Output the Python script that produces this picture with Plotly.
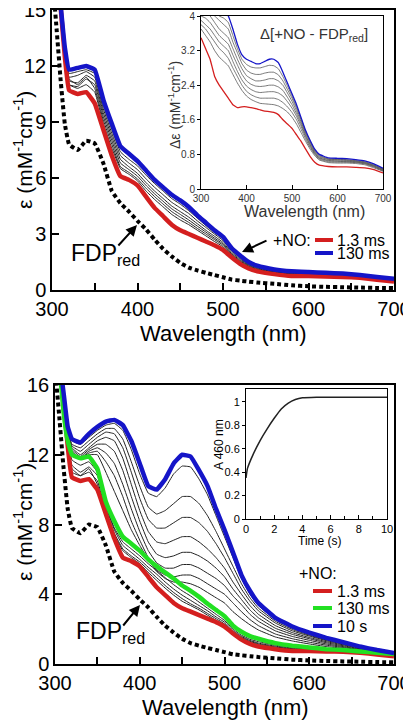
import plotly.graph_objects as go

# ---------------- data ----------------
WL = [300, 305, 310, 315, 320, 330, 340, 350, 360, 370, 380, 390, 400, 410, 420, 430, 440, 450,
      460, 470, 480, 490, 500, 510, 520, 530, 540, 560, 580, 600, 620, 640, 660, 680, 700]

FDP_RED = [17, 14.2, 11.3, 8.9, 7.8, 7.5, 8.0, 7.85, 6.8, 5.3, 4.65, 4.2, 3.7, 3.25, 2.7, 2.2, 1.8, 1.45,
           1.2, 1.05, 0.92, 0.8, 0.68, 0.56, 0.5, 0.45, 0.4, 0.33, 0.25, 0.2, 0.17, 0.15, 0.13, 0.11, 0.1]

RED_1P3MS = [20, 17.5, 15.2, 12.5, 10.7, 10.5, 10.6, 10.0, 8.6, 7.2, 6.1, 5.9, 5.6, 5.0, 4.4, 3.95, 3.5, 3.2,
             3.0, 2.8, 2.6, 2.4, 2.15, 1.75, 1.4, 1.15, 1.0, 0.85, 0.75, 0.75, 0.72, 0.7, 0.65, 0.55, 0.45]

# top panel: 130 ms (blue) and intermediate traces
TOP_BLUE_130MS = [20, 17.5, 15.3, 13.0, 11.8, 11.9, 12.0, 11.8, 10.2, 8.9, 7.7, 7.3, 6.9, 6.4, 5.9, 5.5, 5.1, 4.8,
                  4.45, 4.0, 3.6, 3.2, 2.85, 2.25, 1.85, 1.5, 1.3, 1.1, 1.0, 0.96, 0.92, 0.88, 0.8, 0.7, 0.6]
TOP_MID = [
    [20, 17.5, 15.3, 12.9, 11.6, 11.7, 11.8, 11.6, 9.9, 8.6, 7.4, 7.0, 6.65, 6.15, 5.7, 5.3, 4.9, 4.6, 4.25, 3.85, 3.45, 3.08, 2.75, 2.18, 1.78, 1.45, 1.26, 1.07, 0.98, 0.94, 0.9, 0.86, 0.78, 0.68, 0.58],
    [20, 17.5, 15.3, 12.9, 11.4, 11.5, 11.7, 11.4, 9.7, 8.4, 7.2, 6.8, 6.45, 5.95, 5.5, 5.1, 4.7, 4.4, 4.1, 3.7, 3.35, 3.0, 2.65, 2.1, 1.72, 1.4, 1.22, 1.04, 0.95, 0.92, 0.88, 0.84, 0.76, 0.66, 0.56],
    [20, 17.5, 15.2, 12.8, 11.2, 11.1, 11.5, 11.2, 9.5, 8.2, 7.0, 6.6, 6.25, 5.75, 5.3, 4.9, 4.5, 4.2, 3.9, 3.55, 3.2, 2.88, 2.55, 2.02, 1.66, 1.36, 1.18, 1.0, 0.92, 0.89, 0.85, 0.81, 0.74, 0.64, 0.54],
    [20, 17.5, 15.2, 12.8, 11.0, 10.9, 11.3, 11.0, 9.3, 8.0, 6.8, 6.45, 6.1, 5.6, 5.15, 4.75, 4.35, 4.05, 3.75, 3.42, 3.1, 2.78, 2.47, 1.95, 1.6, 1.32, 1.14, 0.97, 0.89, 0.86, 0.82, 0.78, 0.72, 0.62, 0.52],
    [20, 17.5, 15.2, 12.7, 11.3, 11.0, 11.4, 10.8, 9.1, 7.8, 6.6, 6.3, 5.95, 5.45, 5.0, 4.6, 4.2, 3.9, 3.62, 3.3, 3.0, 2.7, 2.4, 1.9, 1.55, 1.28, 1.1, 0.94, 0.86, 0.83, 0.8, 0.76, 0.7, 0.6, 0.5],
    [20, 17.5, 15.1, 12.6, 11.0, 10.8, 11.0, 10.6, 8.9, 7.6, 6.5, 6.2, 5.85, 5.3, 4.85, 4.45, 4.05, 3.75, 3.5, 3.2, 2.9, 2.6, 2.32, 1.85, 1.5, 1.24, 1.07, 0.92, 0.84, 0.81, 0.78, 0.74, 0.68, 0.58, 0.48],
]

# bottom panel: 130 ms (green), 10 s (blue) and intermediate traces
BOT_GREEN_130MS = [20, 17.3, 14.5, 12.8, 12.0, 11.8, 11.9, 11.2, 9.3, 8.2, 7.3, 6.9, 6.5, 6.0, 5.6, 5.25, 4.9, 4.5,
                   4.2, 3.85, 3.45, 3.1, 2.75, 2.2, 1.85, 1.6, 1.45, 1.2, 1.05, 0.95, 0.85, 0.8, 0.72, 0.65, 0.57]
BOT_BLUE_10S = [20, 17.5, 15.6, 13.6, 12.9, 12.7, 13.2, 13.6, 13.9, 14.0, 13.7, 12.8, 11.5, 10.2, 10.0, 10.6, 11.5, 12.0,
                11.9, 11.1, 10.2, 8.9, 7.7, 6.4, 5.1, 4.2, 3.5, 2.65, 2.15, 1.8, 1.5, 1.25, 1.0, 0.8, 0.63]
BOT_LATE = [
    [20, 17.5, 15.5, 13.5, 12.8, 12.6, 13.0, 13.4, 13.7, 13.8, 13.4, 12.3, 10.9, 9.8, 9.6, 10.1, 10.9, 11.35, 11.3, 10.6, 9.7, 8.5, 7.3, 6.1, 4.9, 4.0, 3.35, 2.55, 2.05, 1.7, 1.42, 1.2, 0.98, 0.8, 0.63],
    [20, 17.5, 15.5, 13.4, 12.6, 12.4, 12.8, 13.2, 13.5, 13.5, 12.9, 11.6, 10.2, 9.0, 8.6, 8.8, 9.2, 9.6, 9.6, 9.2, 8.5, 7.6, 6.6, 5.6, 4.6, 3.8, 3.2, 2.45, 1.98, 1.65, 1.38, 1.17, 0.96, 0.78, 0.62],
    [20, 17.4, 15.4, 13.3, 12.5, 12.2, 12.6, 13.0, 13.3, 13.2, 12.4, 11.0, 9.5, 8.3, 7.8, 7.8, 8.1, 8.4, 8.4, 8.1, 7.6, 6.9, 6.1, 5.2, 4.3, 3.6, 3.05, 2.35, 1.9, 1.6, 1.34, 1.14, 0.94, 0.76, 0.61],
    [20, 17.4, 15.3, 13.2, 12.4, 12.0, 12.4, 12.8, 13.0, 12.8, 11.8, 10.3, 8.8, 7.6, 7.0, 6.9, 7.1, 7.3, 7.3, 7.0, 6.6, 6.1, 5.5, 4.7, 4.0, 3.35, 2.85, 2.2, 1.8, 1.52, 1.28, 1.1, 0.9, 0.74, 0.6],
    [20, 17.3, 15.2, 13.1, 12.3, 11.9, 12.3, 12.6, 12.6, 12.2, 11.1, 9.6, 8.2, 7.0, 6.3, 6.1, 6.2, 6.4, 6.4, 6.2, 5.9, 5.5, 5.0, 4.3, 3.7, 3.1, 2.65, 2.05, 1.7, 1.45, 1.22, 1.05, 0.87, 0.72, 0.6],
    [20, 17.3, 15.1, 13.0, 12.2, 11.8, 12.2, 12.4, 12.1, 11.5, 10.3, 8.9, 7.6, 6.5, 5.8, 5.5, 5.5, 5.7, 5.7, 5.5, 5.2, 4.9, 4.5, 3.9, 3.4, 2.85, 2.45, 1.9, 1.58, 1.36, 1.15, 1.0, 0.83, 0.7, 0.6],
    [20, 17.2, 15.0, 12.9, 12.1, 11.8, 12.1, 12.2, 11.6, 10.8, 9.6, 8.2, 7.1, 6.1, 5.4, 5.1, 5.0, 5.1, 5.1, 4.9, 4.6, 4.3, 4.0, 3.5, 3.0, 2.55, 2.2, 1.72, 1.45, 1.25, 1.08, 0.95, 0.8, 0.68, 0.58],
    [20, 17.2, 14.9, 12.8, 12.1, 11.8, 12.0, 12.0, 11.0, 9.9, 8.8, 7.7, 6.8, 6.0, 5.3, 4.9, 4.7, 4.7, 4.6, 4.4, 4.1, 3.8, 3.5, 3.0, 2.6, 2.25, 1.95, 1.55, 1.32, 1.15, 1.0, 0.9, 0.78, 0.66, 0.58],
]
BOT_EARLY = [
    [20, 17.4, 14.8, 12.7, 11.7, 11.4, 11.6, 11.0, 9.1, 7.8, 7.0, 6.6, 6.2, 5.75, 5.35, 4.95, 4.55, 4.2, 3.9, 3.55, 3.2, 2.85, 2.5, 2.0, 1.65, 1.42, 1.28, 1.08, 0.97, 0.9, 0.83, 0.78, 0.72, 0.63, 0.55],
    [20, 17.4, 15.0, 12.6, 11.4, 11.0, 11.3, 10.8, 9.0, 7.7, 6.8, 6.4, 6.0, 5.55, 5.15, 4.7, 4.3, 3.95, 3.65, 3.35, 3.05, 2.7, 2.4, 1.92, 1.58, 1.35, 1.2, 1.02, 0.92, 0.86, 0.8, 0.76, 0.7, 0.61, 0.53],
    [20, 17.4, 15.0, 12.6, 11.2, 10.8, 11.0, 10.5, 8.8, 7.5, 6.6, 6.2, 5.85, 5.4, 4.95, 4.5, 4.1, 3.75, 3.45, 3.2, 2.9, 2.6, 2.3, 1.85, 1.52, 1.3, 1.15, 0.97, 0.88, 0.83, 0.78, 0.74, 0.68, 0.6, 0.52],
    [20, 17.5, 15.1, 12.5, 11.0, 10.8, 11.2, 10.3, 8.7, 7.4, 6.5, 6.1, 5.75, 5.25, 4.8, 4.35, 3.95, 3.6, 3.35, 3.1, 2.8, 2.5, 2.25, 1.8, 1.48, 1.25, 1.1, 0.93, 0.85, 0.8, 0.76, 0.72, 0.67, 0.58, 0.5],
]

# top inset: difference spectra
WL_INSET = [300, 310, 320, 330, 340, 350, 360, 370, 380, 390, 400, 410, 420, 430, 440, 450, 460, 470, 480,
            490, 500, 510, 520, 530, 540, 550, 560, 580, 600, 620, 640, 660, 680, 700]
DIFF_RED = [3.5, 3.25, 3.0, 2.6, 2.4, 2.25, 2.1, 1.95, 1.88, 1.9, 1.9, 1.88, 1.86, 1.83, 1.8, 1.79, 1.77, 1.72, 1.6,
            1.5, 1.4, 1.25, 1.1, 0.92, 0.75, 0.62, 0.55, 0.52, 0.51, 0.51, 0.5, 0.49, 0.45, 0.37]
DIFF_BLUE = [4.3, 4.4, 4.3, 4.2, 4.1, 4.1, 4.0, 3.7, 3.35, 3.1, 3.0, 2.95, 2.9, 2.9, 2.95, 3.0, 3.0, 2.92, 2.7,
             2.45, 2.2, 1.95, 1.65, 1.35, 1.12, 0.92, 0.8, 0.72, 0.71, 0.7, 0.68, 0.65, 0.58, 0.48]
DIFF_MID = [
    [4.3, 4.3, 4.2, 4.1, 4.0, 3.95, 3.85, 3.55, 3.25, 3.0, 2.88, 2.82, 2.8, 2.8, 2.83, 2.86, 2.85, 2.78, 2.6, 2.38, 2.15, 1.9, 1.62, 1.33, 1.1, 0.9, 0.78, 0.7, 0.69, 0.68, 0.66, 0.63, 0.56, 0.47],
    [4.2, 4.2, 4.1, 4.0, 3.9, 3.8, 3.7, 3.4, 3.15, 2.9, 2.75, 2.68, 2.65, 2.65, 2.68, 2.7, 2.7, 2.64, 2.5, 2.3, 2.1, 1.86, 1.6, 1.3, 1.08, 0.88, 0.76, 0.69, 0.68, 0.67, 0.65, 0.62, 0.55, 0.46],
    [4.1, 4.1, 4.0, 3.85, 3.7, 3.6, 3.5, 3.25, 3.0, 2.78, 2.62, 2.55, 2.5, 2.5, 2.52, 2.55, 2.55, 2.5, 2.4, 2.22, 2.03, 1.8, 1.55, 1.27, 1.05, 0.86, 0.74, 0.68, 0.67, 0.66, 0.64, 0.61, 0.54, 0.45],
    [4.0, 3.95, 3.85, 3.7, 3.55, 3.45, 3.35, 3.1, 2.87, 2.65, 2.5, 2.42, 2.38, 2.37, 2.38, 2.4, 2.4, 2.36, 2.28, 2.12, 1.95, 1.74, 1.5, 1.23, 1.02, 0.84, 0.72, 0.66, 0.65, 0.64, 0.63, 0.6, 0.53, 0.44],
    [3.9, 3.8, 3.7, 3.55, 3.4, 3.3, 3.2, 2.95, 2.72, 2.52, 2.38, 2.3, 2.25, 2.23, 2.24, 2.25, 2.25, 2.22, 2.15, 2.02, 1.87, 1.68, 1.45, 1.2, 0.99, 0.82, 0.71, 0.65, 0.64, 0.63, 0.62, 0.59, 0.52, 0.43],
    [3.8, 3.7, 3.55, 3.4, 3.25, 3.15, 3.02, 2.8, 2.6, 2.4, 2.26, 2.18, 2.13, 2.1, 2.1, 2.1, 2.1, 2.07, 2.0, 1.9, 1.77, 1.6, 1.38, 1.15, 0.96, 0.8, 0.69, 0.63, 0.62, 0.62, 0.61, 0.58, 0.51, 0.42],
    [3.7, 3.55, 3.4, 3.2, 3.05, 2.95, 2.85, 2.65, 2.45, 2.28, 2.15, 2.07, 2.02, 1.98, 1.97, 1.96, 1.95, 1.92, 1.86, 1.78, 1.66, 1.5, 1.3, 1.1, 0.92, 0.77, 0.67, 0.61, 0.6, 0.6, 0.59, 0.56, 0.49, 0.41],
]

# bottom inset: kinetics at 460 nm
TIME_S = [0, 0.1, 0.5, 1.0, 1.5, 2.0, 2.5, 3.0, 3.5, 4.0, 5, 6, 7, 8, 9, 10]
A460 = [0.35, 0.43, 0.55, 0.67, 0.77, 0.86, 0.94, 0.99, 1.02, 1.035, 1.04, 1.04, 1.04, 1.04, 1.04, 1.04]

# ---------------- styling ----------------
PAGE_OFF = 8                       # default page margin in front of the figure div
W, H = 411 - PAGE_OFF, 720 - PAGE_OFF
FONT = "Liberation Sans, Arial, sans-serif"
RED, BLUE, GREEN = "#d41f1f", "#1515c8", "#22e022"


def px(x):
    return (x - PAGE_OFF) / W


def py(y):
    return 1 - (y - PAGE_OFF) / H


fig = go.Figure()


def add(x, y, color, width, xa, ya, dash=None):
    line = dict(color=color, width=width, shape="spline", smoothing=0.3)
    if dash:
        line["dash"] = dash
    fig.add_trace(go.Scatter(x=x, y=y, mode="lines", line=line, xaxis=xa, yaxis=ya,
                             hoverinfo="skip", showlegend=False))


# top main
add(WL, FDP_RED, "black", 4, "x", "y", dash="4px,3px")
for tr in TOP_MID:
    add(WL, tr, "#222222", 1, "x", "y")
add(WL, RED_1P3MS, RED, 4.5, "x", "y")
add(WL, TOP_BLUE_130MS, BLUE, 4.5, "x", "y")

# top inset
for tr in DIFF_MID:
    add(WL_INSET, tr, "#555555", 0.8, "x2", "y2")
add(WL_INSET, DIFF_RED, RED, 1.3, "x2", "y2")
add(WL_INSET, DIFF_BLUE, BLUE, 1.3, "x2", "y2")

# bottom main
add(WL, FDP_RED, "black", 4, "x3", "y3", dash="4px,3px")
for tr in BOT_EARLY:
    add(WL, tr, "#222222", 1, "x3", "y3")
for tr in BOT_LATE:
    add(WL, tr, "#222222", 1, "x3", "y3")
add(WL, RED_1P3MS, RED, 4.5, "x3", "y3")
add(WL, BOT_GREEN_130MS, GREEN, 4.5, "x3", "y3")
add(WL, BOT_BLUE_10S, BLUE, 4.5, "x3", "y3")

# bottom inset
add(TIME_S, A460, "#222222", 1.5, "x4", "y4")

axis_common = dict(showline=True, linecolor="black", mirror=True, showgrid=False, zeroline=False,
                   tickcolor="black", color="black", automargin=False, ticklabeloverflow="allow")

fig.update_layout(
    template="none",
    width=W, height=H, autosize=False,
    margin=dict(l=0, r=0, t=0, b=0),
    paper_bgcolor="white", plot_bgcolor="white",
    font=dict(family=FONT, color="black"),
    xaxis=dict(axis_common, domain=[px(52), px(394)], range=[300, 700], anchor="y", linewidth=1.5,
               tickvals=[300, 400, 500, 600, 700], ticks="inside", ticklen=7, tickwidth=1.5,
               minor=dict(tickvals=[350, 450, 550, 650], ticks="inside", ticklen=7, tickwidth=1.5),
               tickfont=dict(size=20)),
    yaxis=dict(axis_common, domain=[py(290), py(10)], range=[0, 15], anchor="x", linewidth=1.5,
               tickvals=[0, 3, 6, 9, 12, 15], ticks="inside", ticklen=7, tickwidth=1.5,
               tickfont=dict(size=20)),
    xaxis2=dict(axis_common, domain=[px(201), px(383)], range=[300, 700], anchor="y2", linewidth=1,
                tickvals=[300, 400, 500, 600, 700], ticks="inside", ticklen=4, tickwidth=1,
                tickfont=dict(size=10, color="#333333")),
    yaxis2=dict(axis_common, domain=[py(189), py(16)], range=[0, 4], anchor="x2", linewidth=1,
                tickvals=[0, 0.8, 1.6, 2.4, 3.2, 4], ticktext=["0", "0.8", "1.6", "2.4", "3.2", "4"],
                ticks="outside", ticklen=3, tickwidth=1, tickfont=dict(size=10, color="#333333")),
    xaxis3=dict(axis_common, domain=[px(55), px(394)], range=[300, 700], anchor="y3", linewidth=1.5,
                tickvals=[300, 400, 500, 600, 700], ticks="inside", ticklen=7, tickwidth=1.5,
                minor=dict(tickvals=[350, 450, 550, 650], ticks="inside", ticklen=7, tickwidth=1.5),
                tickfont=dict(size=20)),
    yaxis3=dict(axis_common, domain=[py(664), py(385)], range=[0, 16], anchor="x3", linewidth=1.5,
                tickvals=[0, 4, 8, 12, 16], ticks="inside", ticklen=7, tickwidth=1.5,
                tickfont=dict(size=20)),
    xaxis4=dict(axis_common, domain=[px(246), px(387)], range=[0, 10], anchor="y4", linewidth=1,
                tickvals=[0, 2, 4, 6, 8, 10], ticks="inside", ticklen=4, tickwidth=1,
                minor=dict(tickvals=[1, 3, 5, 7, 9], ticks="inside", ticklen=3),
                tickfont=dict(size=11)),
    yaxis4=dict(axis_common, domain=[py(519), py(389)], range=[0, 1.11], anchor="x4", linewidth=1,
                tickvals=[0, 0.2, 0.4, 0.6, 0.8, 1], ticks="outside", ticklen=3, tickwidth=1,
                tickfont=dict(size=11)),
)

ann = []


def text(x, y, s, size, xanchor="center", yanchor="middle", angle=0, color="black"):
    ann.append(dict(x=px(x), y=py(y), xref="paper", yref="paper", text=s, showarrow=False,
                    xanchor=xanchor, yanchor=yanchor, textangle=angle,
                    font=dict(size=size, color=color, family=FONT)))


def arrow(xt, yt, dx, dy):
    ann.append(dict(x=px(xt), y=py(yt), xref="paper", yref="paper", text="", showarrow=True,
                    ax=dx, ay=dy, arrowhead=2, arrowsize=1.1, arrowwidth=2, arrowcolor="black"))


EPS_TITLE = "ε (mM<sup>-1</sup>cm<sup>-1</sup>)"
# top panel texts
text(23, 150, EPS_TITLE, 21, angle=-90)
text(223, 333, "Wavelength (nm)", 22)
text(174, 105, "Δε (mM<sup>-1</sup>cm<sup>-1</sup>)", 14, angle=-90, color="#333333")
text(304, 211, "Wavelength (nm)", 16, color="#333333")
text(258, 34, "Δ[+NO - FDP<sub>red</sub>]", 15, xanchor="left", color="#333333")
text(69, 254, "FDP<sub>red</sub>", 23, xanchor="left")
arrow(137, 225, -20, 22)
text(313, 240, "+NO:", 16, xanchor="right")
text(335, 240, "1.3 ms", 16, xanchor="left")
text(335, 253, "130 ms", 16, xanchor="left")
arrow(242, 252, 26, -12)

# bottom panel texts
text(23, 522, EPS_TITLE, 21, angle=-90)
text(225, 707, "Wavelength (nm)", 22)
text(219, 444, "A 460 nm", 12, angle=-90)
text(320, 541, "Time (s)", 12)
text(74, 632, "FDP<sub>red</sub>", 23, xanchor="left")
arrow(140, 605, -18, 22)
text(297, 573, "+NO:", 16, xanchor="left")
text(335, 591, "1.3 ms", 16, xanchor="left")
text(335, 608, "130 ms", 16, xanchor="left")
text(335, 626, "10 s", 16, xanchor="left")

fig.update_layout(annotations=ann)

shapes = []
for (x0, x1, y, c) in [(315, 333, 240, RED), (315, 333, 253, BLUE),
                       (313, 332, 591, RED), (313, 332, 608, GREEN), (313, 332, 626, BLUE)]:
    shapes.append(dict(type="line", xref="paper", yref="paper", x0=px(x0), x1=px(x1),
                       y0=py(y), y1=py(y), line=dict(color=c, width=4)))
fig.update_layout(shapes=shapes)

fig.write_html("out.html")
